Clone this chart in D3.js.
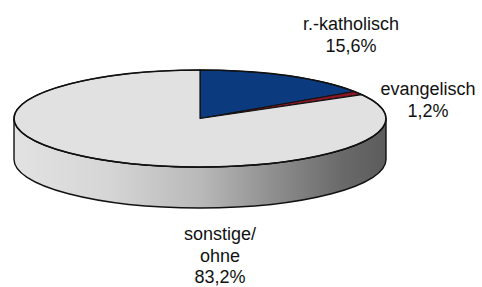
<!DOCTYPE html>
<html>
<head>
<meta charset="utf-8">
<script src="https://cdn.jsdelivr.net/npm/d3@7"></script>
<style>
  html, body { margin: 0; padding: 0; background: #fff; }
  text { font-family: "Liberation Sans", Arial, sans-serif; font-size: 18px; fill: #111; }
</style>
</head>
<body>
<div id="chart"></div>
<script>
// data
var categories = ["r.-katholisch", "evangelisch", "sonstige/ohne"]
var values = [15.6, 1.2, 83.2]
var labelLines = [["r.-katholisch", "15,6%"], ["evangelisch", "1,2%"], ["sonstige/", "ohne", "83,2%"]]
var colors = ["#0b3a7e", "#8a1626", "#e1e1e1"]

var width = 482, height = 287
var cx = 200, cy = 118.5, rx = 186, ry = 48.5, depth = 41

// label placement (layout only)
var labelPos = {
  "r.-katholisch": [351, 30],
  "evangelisch": [428, 95],
  "sonstige/ohne": [220, 240]
}

var svg = d3.select("#chart")
  .append("svg")
  .attr("width", width)
  .attr("height", height)

// side gradient
var grad = svg.append("defs").append("linearGradient")
  .attr("id", "side")
  .attr("gradientUnits", "userSpaceOnUse")
  .attr("x1", cx - rx).attr("x2", cx + rx)
  .attr("y1", 0).attr("y2", 0)
grad.append("stop").attr("offset", "0%").attr("stop-color", "#e2e2e2")
grad.append("stop").attr("offset", "25%").attr("stop-color", "#d6d6d6")
grad.append("stop").attr("offset", "50%").attr("stop-color", "#b9b9b9")
grad.append("stop").attr("offset", "70%").attr("stop-color", "#8e8e8e")
grad.append("stop").attr("offset", "88%").attr("stop-color", "#6a6a6a")
grad.append("stop").attr("offset", "100%").attr("stop-color", "#5c5c5c")

// projection scales: unit circle -> ellipse
var xScale = d3.scaleLinear().domain([-1, 1]).range([cx - rx, cx + rx])
var yScale = d3.scaleLinear().domain([-1, 1]).range([cy - ry, cy + ry])

function pt(a, dy) {
  return [xScale(Math.sin(a)), yScale(-Math.cos(a)) + (dy || 0)]
}

var pie = d3.pie().sort(null).value(d => d.value)
var arcs = pie(categories.map((c, i) => ({ name: c, value: values[i], color: colors[i] })))

// side walls (only the front half is visible)
var sides = svg.append("g")
arcs.forEach(function(d) {
  var a0 = Math.max(d.startAngle, Math.PI / 2)
  var a1 = Math.min(d.endAngle, Math.PI * 3 / 2)
  if (a1 <= a0) return
  var p0 = pt(a0), p1 = pt(a1)
  var large = (a1 - a0) > Math.PI ? 1 : 0
  var path = `M${p0[0]},${p0[1]} A${rx},${ry} 0 ${large} 1 ${p1[0]},${p1[1]}` +
    ` L${p1[0]},${p1[1] + depth} A${rx},${ry} 0 ${large} 0 ${p0[0]},${p0[1] + depth} Z`
  sides.append("path")
    .attr("d", path)
    .style("fill", d.data.name === "sonstige/ohne" ? "url(#side)" : d3.color(d.data.color).darker(0.8))
    .style("stroke", "#111")
    .style("stroke-width", 1.4)
})

// top face
svg.append("g")
  .selectAll("path")
  .data(arcs)
  .enter()
  .append("path")
  .attr("d", function(d) {
    var p0 = pt(d.startAngle), p1 = pt(d.endAngle)
    var large = (d.endAngle - d.startAngle) > Math.PI ? 1 : 0
    return `M${cx},${cy} L${p0[0]},${p0[1]} A${rx},${ry} 0 ${large} 1 ${p1[0]},${p1[1]} Z`
  })
  .style("fill", d => d.data.color)
  .style("stroke", "#111")
  .style("stroke-width", 1.2)
  .style("stroke-linejoin", "round")

// outer rim of top face
svg.append("ellipse")
  .attr("cx", cx).attr("cy", cy)
  .attr("rx", rx).attr("ry", ry)
  .style("fill", "none")
  .style("stroke", "#111")
  .style("stroke-width", 1.5)

// labels
svg.append("g")
  .selectAll("text")
  .data(arcs)
  .enter()
  .append("text")
  .attr("text-anchor", "middle")
  .attr("x", d => labelPos[d.data.name][0])
  .attr("y", d => labelPos[d.data.name][1])
  .each(function(d, i) {
    var t = d3.select(this)
    labelLines[i].forEach(function(line, j) {
      t.append("tspan")
        .attr("x", labelPos[d.data.name][0])
        .attr("dy", j === 0 ? 0 : 21.7)
        .text(line)
    })
  })
</script>
</body>
</html>
